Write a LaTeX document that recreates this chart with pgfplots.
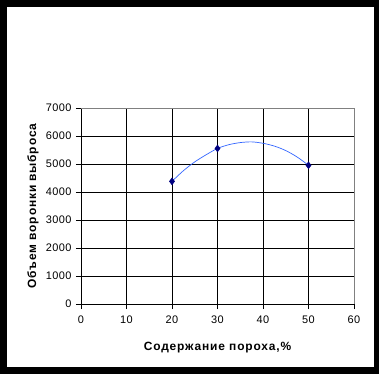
\documentclass[border=0pt]{standalone}
\usepackage{fontspec}
\setmainfont{Liberation Sans}
\newfontfamily\labelfont[LetterSpace=7]{Liberation Sans}
\newfontfamily\tickfont[LetterSpace=4]{Liberation Sans}
\usepackage{pgfplots}
\pgfplotsset{compat=1.18}
\definecolor{markblue}{RGB}{0,0,128}
\definecolor{curveblue}{RGB}{51,102,255}
\begin{document}
\begin{tikzpicture}
\fill[black] (0,0) rectangle (379bp,374bp);
\fill[white] (7bp,7bp) rectangle (374bp,367bp);
\begin{axis}[
  at={(81bp,70bp)}, anchor=south west,
  width=273bp, height=196bp, scale only axis,
  xmin=0, xmax=60, ymin=0, ymax=7000,
  xtick={0,10,...,60}, ytick={0,1000,...,7000},
  grid=major, major grid style={black, line width=0.8bp},
  axis lines=left, axis line style={-, black, line width=0.8bp},
  tick style={black, line width=0.8bp},
  tick align=outside, major tick length=5bp,
  scaled y ticks=false,
  /pgf/number format/1000 sep={},
  /pgf/number format/assume math mode=true,
  ticklabel style={font=\tickfont\fontsize{11}{13}\selectfont},
  xticklabel style={yshift=-3bp},
  yticklabel style={xshift=-1bp},
  xlabel={\bfseries Содержание пороха,\%},
  ylabel={\bfseries Объем воронки выброса},
  label style={font=\labelfont\fontsize{12}{14}\selectfont},
  xlabel style={at={(0.5,0)}, anchor=center, yshift=-44bp},
  ylabel style={at={(0,0.5)}, anchor=center, yshift=48bp},
  clip=false,
]
\addplot[curveblue, line width=0.7bp, smooth] coordinates {
  (20,4380) (22.5,4760) (25,5075) (27.5,5330) (30,5555) (32.5,5690) (35,5765) (37.5,5790) (40,5740) (42.5,5640) (45,5480) (47.5,5250) (50,4955)
};
\addplot[only marks, mark=diamond*, mark size=3.5bp, draw=markblue, fill=markblue] coordinates {
  (20,4380) (30,5555) (50,4955)
};
\draw[gray, line width=0.8bp] (axis cs:0,7000) -- (axis cs:60,7000) -- (axis cs:60,0);
\end{axis}
\end{tikzpicture}
\end{document}
